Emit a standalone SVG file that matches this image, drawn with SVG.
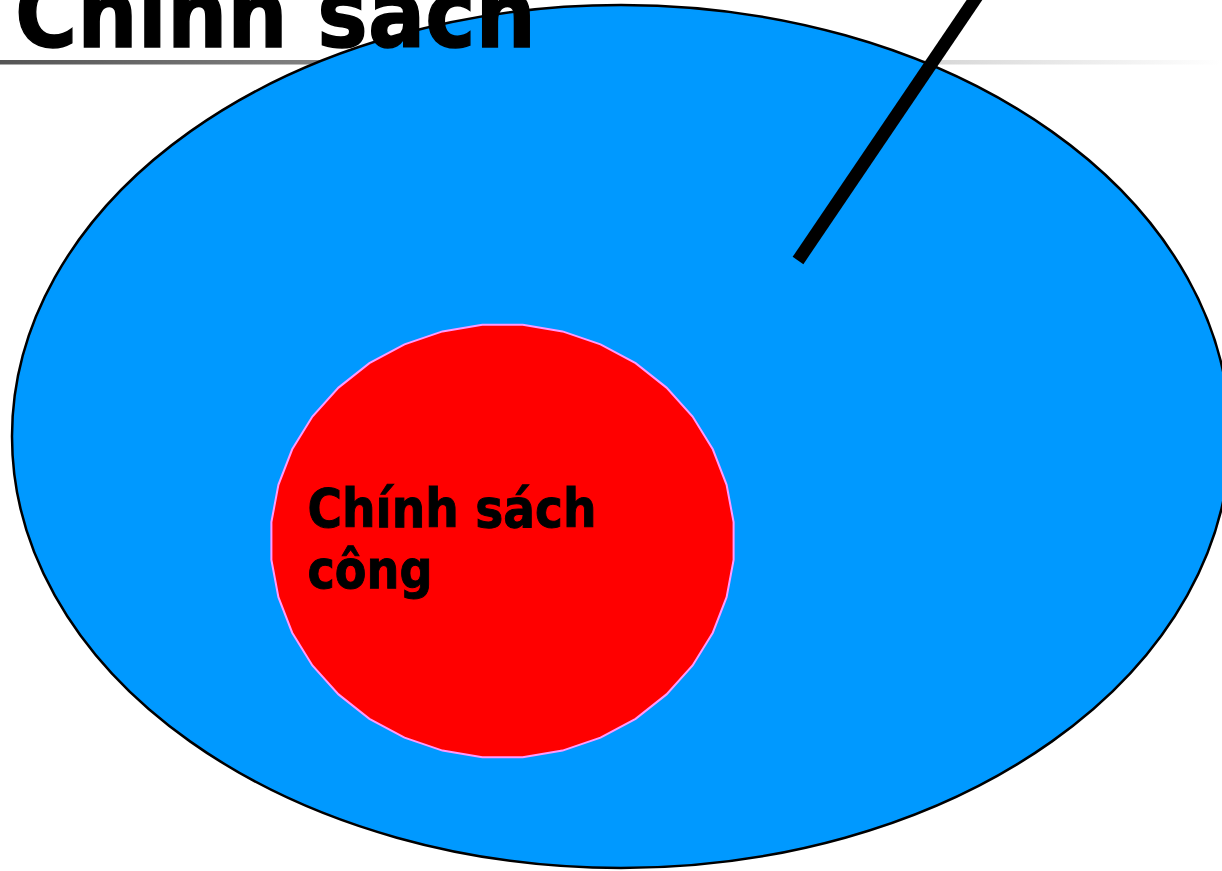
<svg xmlns="http://www.w3.org/2000/svg" width="1222" height="871" viewBox="0 0 1222 871">
  <defs>
    <linearGradient id="rule" x1="0" y1="0" x2="1" y2="0">
      <stop offset="0" stop-color="#555555"/>
      <stop offset="1" stop-color="#ffffff"/>
    </linearGradient>
  </defs>
  <style>
    .lbl { font-family: "DejaVu Sans", Verdana, sans-serif; font-weight: bold; fill: #000000; stroke: #000000; }
    .outer { fill: #0099FF; stroke: #000000; stroke-width: 2.5; }
    .inner { fill: #FF0000; stroke: #FF99FF; stroke-width: 2; }
    .conn { stroke: #000000; stroke-width: 13; stroke-linecap: butt; fill: none; }
  </style>
  <rect x="0" y="0" width="1222" height="871" fill="#ffffff"/>
  <rect id="title-rule" x="0" y="60" width="1222" height="4.5" fill="url(#rule)"/>
  <g id="outer-set">
    <ellipse class="outer" cx="621" cy="436.5" rx="609" ry="431.5"/>
  </g>
  <g id="inner-set">
    <polygon class="inner" points="522.7,324.8 562.5,331.4 600.5,344.3 635.6,363.2 666.5,387.6 692.6,416.5 712.8,449.3 726.6,484.8 733.6,522.1 733.6,559.9 726.6,597.2 712.8,632.7 692.6,665.5 666.5,694.4 635.6,718.8 600.5,737.7 562.5,750.6 522.7,757.2 482.3,757.2 442.5,750.6 404.5,737.7 369.4,718.8 338.5,694.4 312.4,665.5 292.2,632.7 278.4,597.2 271.4,559.9 271.4,522.1 278.4,484.8 292.2,449.3 312.4,416.5 338.5,387.6 369.4,363.2 404.5,344.3 442.5,331.4 482.3,324.8"/>
    <text class="lbl" font-size="53" stroke-width="1" textLength="289" lengthAdjust="spacingAndGlyphs" x="307.5" y="527">Chính sách</text>
    <text class="lbl" font-size="53" stroke-width="1" textLength="125" lengthAdjust="spacingAndGlyphs" x="307.5" y="588">công</text>
  </g>
  <g id="connectors">
    <line class="conn" x1="798" y1="260.5" x2="988" y2="-20"/>
  </g>
  <g id="title">
    <text class="lbl" font-size="95" stroke-width="1.5" textLength="521" lengthAdjust="spacingAndGlyphs" x="15" y="47">Chính sách</text>
  </g>
</svg>
